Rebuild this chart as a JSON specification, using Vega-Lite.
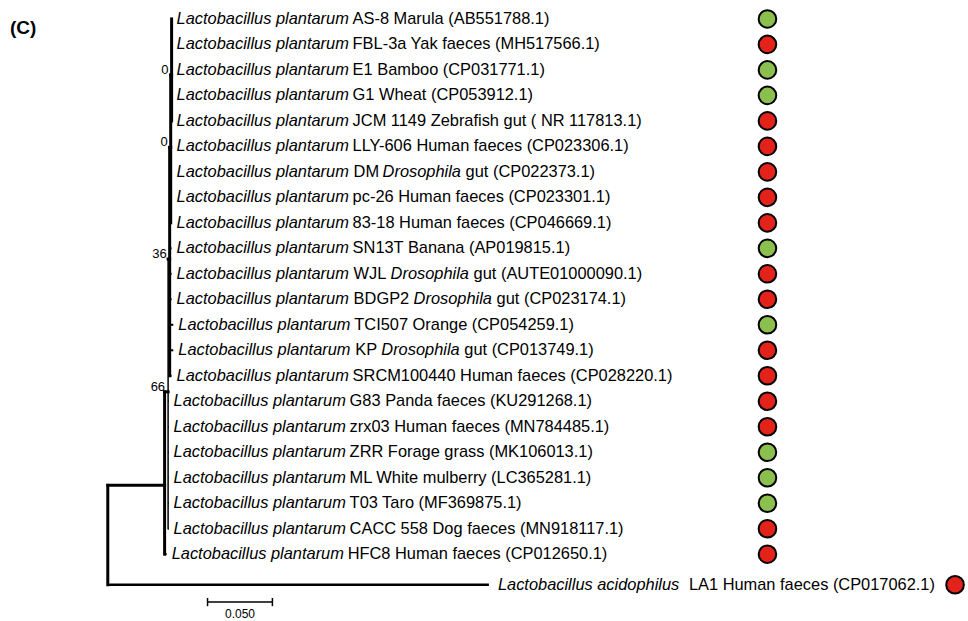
{
  "$schema": "https://vega.github.io/schema/vega-lite/v6.json",
  "width": 968,
  "height": 621,
  "autosize": {"type": "fit", "contains": "padding"},
  "padding": 0,
  "background": "white",
  "config": {"view": {"stroke": null}, "text": {"font": "Liberation Sans"}},
  "datasets": {
    "leaves": [
      {"row": 0, "px": 0.0492, "tip": 0.0492, "genus": "Lactobacillus plantarum", "rest": "AS-8 Marula (AB551788.1)", "source": "plant"},
      {"row": 1, "px": 0.0492, "tip": 0.0492, "genus": "Lactobacillus plantarum", "rest": "FBL-3a Yak faeces (MH517566.1)", "source": "animal"},
      {"row": 2, "px": 0.0492, "tip": 0.0492, "genus": "Lactobacillus plantarum", "rest": "E1 Bamboo (CP031771.1)", "source": "plant"},
      {"row": 3, "px": 0.0492, "tip": 0.0492, "genus": "Lactobacillus plantarum", "rest": "G1 Wheat (CP053912.1)", "source": "plant"},
      {"row": 4, "px": 0.0492, "tip": 0.0492, "genus": "Lactobacillus plantarum", "rest": "JCM 1149 Zebrafish gut ( NR 117813.1)", "source": "animal"},
      {"row": 5, "px": 0.0485, "tip": 0.0492, "genus": "Lactobacillus plantarum", "rest": "LLY-606 Human faeces (CP023306.1)", "source": "animal"},
      {"row": 6, "px": 0.0485, "tip": 0.0492, "genus": "Lactobacillus plantarum", "rest": "DM Drosophila gut (CP022373.1)", "pre": "DM", "ital": "Drosophila", "post": "gut (CP022373.1)", "source": "animal"},
      {"row": 7, "px": 0.0485, "tip": 0.0492, "genus": "Lactobacillus plantarum", "rest": "pc-26 Human faeces (CP023301.1)", "source": "animal"},
      {"row": 8, "px": 0.0485, "tip": 0.0492, "genus": "Lactobacillus plantarum", "rest": "83-18 Human faeces (CP046669.1)", "source": "animal"},
      {"row": 9, "px": 0.0477, "tip": 0.0492, "genus": "Lactobacillus plantarum", "rest": "SN13T Banana (AP019815.1)", "source": "plant"},
      {"row": 10, "px": 0.0477, "tip": 0.0492, "genus": "Lactobacillus plantarum", "rest": "WJL Drosophila gut (AUTE01000090.1)", "pre": "WJL", "ital": "Drosophila", "post": "gut (AUTE01000090.1)", "source": "animal"},
      {"row": 11, "px": 0.0477, "tip": 0.0492, "genus": "Lactobacillus plantarum", "rest": "BDGP2 Drosophila gut (CP023174.1)", "pre": "BDGP2", "ital": "Drosophila", "post": "gut (CP023174.1)", "source": "animal"},
      {"row": 12, "px": 0.0477, "tip": 0.0505, "genus": "Lactobacillus plantarum", "rest": "TCI507 Orange (CP054259.1)", "source": "plant"},
      {"row": 13, "px": 0.0477, "tip": 0.0505, "genus": "Lactobacillus plantarum", "rest": "KP Drosophila gut (CP013749.1)", "pre": "KP", "ital": "Drosophila", "post": "gut (CP013749.1)", "source": "animal"},
      {"row": 14, "px": 0.0477, "tip": 0.0492, "genus": "Lactobacillus plantarum", "rest": "SRCM100440 Human faeces (CP028220.1)", "source": "animal"},
      {"row": 15, "px": 0.0465, "tip": 0.0469, "genus": "Lactobacillus plantarum", "rest": "G83 Panda faeces (KU291268.1)", "source": "animal"},
      {"row": 16, "px": 0.0465, "tip": 0.0469, "genus": "Lactobacillus plantarum", "rest": "zrx03 Human faeces (MN784485.1)", "source": "animal"},
      {"row": 17, "px": 0.0465, "tip": 0.0469, "genus": "Lactobacillus plantarum", "rest": "ZRR Forage grass (MK106013.1)", "source": "plant"},
      {"row": 18, "px": 0.0465, "tip": 0.0469, "genus": "Lactobacillus plantarum", "rest": "ML White mulberry (LC365281.1)", "source": "plant"},
      {"row": 19, "px": 0.0465, "tip": 0.0469, "genus": "Lactobacillus plantarum", "rest": "T03 Taro (MF369875.1)", "source": "plant"},
      {"row": 20, "px": 0.0465, "tip": 0.0469, "genus": "Lactobacillus plantarum", "rest": "CACC 558 Dog faeces (MN918117.1)", "source": "animal"},
      {"row": 21, "px": 0.0438, "tip": 0.0454, "genus": "Lactobacillus plantarum", "rest": "HFC8 Human faeces (CP012650.1)", "source": "animal"}
    ],
    "outgroup": [
      {"row": 22.2, "px": 0, "tip": 0.2938, "genus": "Lactobacillus acidophilus", "rest": "LA1 Human faeces (CP017062.1)", "source": "animal"}
    ],
    "branches": [
      {"node": "N1", "x1": 0.0492, "x2": 0.0492, "r1": 0, "r2": 4},
      {"node": "N2", "x1": 0.0485, "x2": 0.0485, "r1": 2.2, "r2": 8},
      {"node": "N3", "x1": 0.0477, "x2": 0.0477, "r1": 5.04, "r2": 14},
      {"node": "N4", "x1": 0.0465, "x2": 0.0465, "r1": 9.42, "r2": 20},
      {"node": "N5", "x1": 0.0438, "x2": 0.0438, "r1": 14.63, "r2": 21},
      {"node": "root", "x1": 0, "x2": 0, "r1": 18.3, "r2": 22.2},
      {"node": "root-N5", "x1": 0, "x2": 0.0438, "r1": 18.3, "r2": 18.3},
      {"node": "N5-N4", "x1": 0.0438, "x2": 0.0465, "r1": 14.63, "r2": 14.63},
      {"node": "N4-N3", "x1": 0.0465, "x2": 0.0477, "r1": 9.42, "r2": 9.42},
      {"node": "N3-N2", "x1": 0.0477, "x2": 0.0485, "r1": 5.04, "r2": 5.04},
      {"node": "N2-N1", "x1": 0.0485, "x2": 0.0492, "r1": 2.2, "r2": 2.2}
    ],
    "support": [
      {"x": 0.0492, "row": 2.2, "value": "0"},
      {"x": 0.0485, "row": 5.04, "value": "0"},
      {"x": 0.0477, "row": 9.42, "value": "36"},
      {"x": 0.0465, "row": 14.63, "value": "66"}
    ]
  },
  "layer": [
    {
      "data": {"name": "branches"},
      "mark": {"type": "rule", "color": "black", "strokeCap": "square"},
      "encoding": {
        "x": {"field": "x1", "type": "quantitative", "scale": {"domain": [-0.08308, 0.66154], "nice": false, "zero": false}, "axis": null},
        "x2": {"field": "x2"},
        "y": {"field": "r1", "type": "quantitative", "scale": {"domain": [-0.743, 23.543], "reverse": true, "nice": false, "zero": false}, "axis": null},
        "y2": {"field": "r2"},
        "strokeWidth": {"condition": {"test": "datum.node === 'N4'", "value": 1.5}, "value": 3}
      }
    },
    {
      "data": {"name": "leaves"},
      "mark": {"type": "rule", "color": "black", "strokeWidth": 2},
      "encoding": {
        "x": {"field": "px", "type": "quantitative"},
        "x2": {"field": "tip"},
        "y": {"field": "row", "type": "quantitative"}
      }
    },
    {
      "data": {"name": "outgroup"},
      "mark": {"type": "rule", "color": "black", "strokeWidth": 2.6},
      "encoding": {
        "x": {"field": "px", "type": "quantitative"},
        "x2": {"field": "tip"},
        "y": {"field": "row", "type": "quantitative"}
      }
    },
    {
      "data": {"name": "leaves"},
      "mark": {"type": "text", "align": "left", "baseline": "middle", "fontSize": 16.4, "fontStyle": "italic", "dx": 5},
      "encoding": {
        "x": {"field": "tip", "type": "quantitative"},
        "y": {"field": "row", "type": "quantitative"},
        "text": {"field": "genus"}
      }
    },
    {
      "data": {"name": "leaves"},
      "transform": [{"filter": "!datum.ital"}],
      "mark": {"type": "text", "align": "left", "baseline": "middle", "fontSize": 16.4, "dx": 181},
      "encoding": {
        "x": {"field": "tip", "type": "quantitative"},
        "y": {"field": "row", "type": "quantitative"},
        "text": {"field": "rest"}
      }
    },
    {
      "data": {"name": "leaves"},
      "transform": [{"filter": "datum.ital"}],
      "mark": {"type": "text", "align": "left", "baseline": "middle", "fontSize": 16.4, "dx": 182},
      "encoding": {
        "x": {"field": "tip", "type": "quantitative"},
        "y": {"field": "row", "type": "quantitative"},
        "text": {"field": "pre"}
      }
    },
    {
      "data": {"name": "leaves"},
      "transform": [{"filter": "datum.pre === 'DM'"}],
      "mark": {"type": "text", "align": "left", "baseline": "middle", "fontSize": 16.4, "fontStyle": "italic", "dx": 211},
      "encoding": {"x": {"field": "tip", "type": "quantitative"}, "y": {"field": "row", "type": "quantitative"}, "text": {"field": "ital"}}
    },
    {
      "data": {"name": "leaves"},
      "transform": [{"filter": "datum.pre === 'DM'"}],
      "mark": {"type": "text", "align": "left", "baseline": "middle", "fontSize": 16.4, "dx": 294},
      "encoding": {"x": {"field": "tip", "type": "quantitative"}, "y": {"field": "row", "type": "quantitative"}, "text": {"field": "post"}}
    },
    {
      "data": {"name": "leaves"},
      "transform": [{"filter": "datum.pre === 'WJL'"}],
      "mark": {"type": "text", "align": "left", "baseline": "middle", "fontSize": 16.4, "fontStyle": "italic", "dx": 219},
      "encoding": {"x": {"field": "tip", "type": "quantitative"}, "y": {"field": "row", "type": "quantitative"}, "text": {"field": "ital"}}
    },
    {
      "data": {"name": "leaves"},
      "transform": [{"filter": "datum.pre === 'WJL'"}],
      "mark": {"type": "text", "align": "left", "baseline": "middle", "fontSize": 16.4, "dx": 302},
      "encoding": {"x": {"field": "tip", "type": "quantitative"}, "y": {"field": "row", "type": "quantitative"}, "text": {"field": "post"}}
    },
    {
      "data": {"name": "leaves"},
      "transform": [{"filter": "datum.pre === 'BDGP2'"}],
      "mark": {"type": "text", "align": "left", "baseline": "middle", "fontSize": 16.4, "fontStyle": "italic", "dx": 242},
      "encoding": {"x": {"field": "tip", "type": "quantitative"}, "y": {"field": "row", "type": "quantitative"}, "text": {"field": "ital"}}
    },
    {
      "data": {"name": "leaves"},
      "transform": [{"filter": "datum.pre === 'BDGP2'"}],
      "mark": {"type": "text", "align": "left", "baseline": "middle", "fontSize": 16.4, "dx": 325},
      "encoding": {"x": {"field": "tip", "type": "quantitative"}, "y": {"field": "row", "type": "quantitative"}, "text": {"field": "post"}}
    },
    {
      "data": {"name": "leaves"},
      "transform": [{"filter": "datum.pre === 'KP'"}],
      "mark": {"type": "text", "align": "left", "baseline": "middle", "fontSize": 16.4, "fontStyle": "italic", "dx": 208},
      "encoding": {"x": {"field": "tip", "type": "quantitative"}, "y": {"field": "row", "type": "quantitative"}, "text": {"field": "ital"}}
    },
    {
      "data": {"name": "leaves"},
      "transform": [{"filter": "datum.pre === 'KP'"}],
      "mark": {"type": "text", "align": "left", "baseline": "middle", "fontSize": 16.4, "dx": 291},
      "encoding": {"x": {"field": "tip", "type": "quantitative"}, "y": {"field": "row", "type": "quantitative"}, "text": {"field": "post"}}
    },
    {
      "data": {"name": "outgroup"},
      "mark": {"type": "text", "align": "left", "baseline": "middle", "fontSize": 16.4, "fontStyle": "italic", "dx": 9},
      "encoding": {"x": {"field": "tip", "type": "quantitative"}, "y": {"field": "row", "type": "quantitative"}, "text": {"field": "genus"}}
    },
    {
      "data": {"name": "outgroup"},
      "mark": {"type": "text", "align": "left", "baseline": "middle", "fontSize": 16.4, "dx": 200},
      "encoding": {"x": {"field": "tip", "type": "quantitative"}, "y": {"field": "row", "type": "quantitative"}, "text": {"field": "rest"}}
    },
    {
      "data": {"name": "leaves"},
      "mark": {"type": "point", "filled": true, "size": 310, "stroke": "black", "strokeWidth": 2, "opacity": 1},
      "encoding": {
        "x": {"datum": 0.5085, "type": "quantitative"},
        "y": {"field": "row", "type": "quantitative"},
        "fill": {"field": "source", "type": "nominal", "scale": {"domain": ["plant", "animal"], "range": ["#8CC04E", "#E3231A"]}, "legend": null}
      }
    },
    {
      "data": {"name": "outgroup"},
      "mark": {"type": "point", "filled": true, "size": 310, "stroke": "black", "strokeWidth": 2, "opacity": 1},
      "encoding": {
        "x": {"datum": 0.6531, "type": "quantitative"},
        "y": {"field": "row", "type": "quantitative"},
        "fill": {"field": "source", "type": "nominal", "legend": null}
      }
    },
    {
      "data": {"name": "support"},
      "mark": {"type": "text", "align": "right", "baseline": "middle", "fontSize": 13, "dx": -3, "dy": -5},
      "encoding": {
        "x": {"field": "x", "type": "quantitative"},
        "y": {"field": "row", "type": "quantitative"},
        "text": {"field": "value"}
      }
    },
    {
      "data": {"values": [{"a": 0.0769, "b": 0.1269}]},
      "mark": {"type": "rule", "color": "black", "strokeWidth": 1.5},
      "encoding": {
        "x": {"field": "a", "type": "quantitative"},
        "x2": {"field": "b"},
        "y": {"datum": 22.88, "type": "quantitative"}
      }
    },
    {
      "data": {"values": [{"a": 0.0769}, {"a": 0.1269}]},
      "mark": {"type": "rule", "color": "black", "strokeWidth": 1.5},
      "encoding": {
        "x": {"field": "a", "type": "quantitative"},
        "y": {"datum": 22.72, "type": "quantitative"},
        "y2": {"datum": 23.04}
      }
    },
    {
      "data": {"values": [{"a": 0.1019, "t": "0.050"}]},
      "mark": {"type": "text", "align": "center", "baseline": "middle", "fontSize": 12},
      "encoding": {
        "x": {"field": "a", "type": "quantitative"},
        "y": {"datum": 23.35, "type": "quantitative"},
        "text": {"field": "t"}
      }
    },
    {
      "data": {"values": [{"t": "(C)"}]},
      "mark": {"type": "text", "align": "left", "baseline": "middle", "fontSize": 19, "fontWeight": "bold"},
      "encoding": {
        "x": {"datum": -0.0754, "type": "quantitative"},
        "y": {"datum": 0.35, "type": "quantitative"},
        "text": {"field": "t"}
      }
    }
  ]
}
